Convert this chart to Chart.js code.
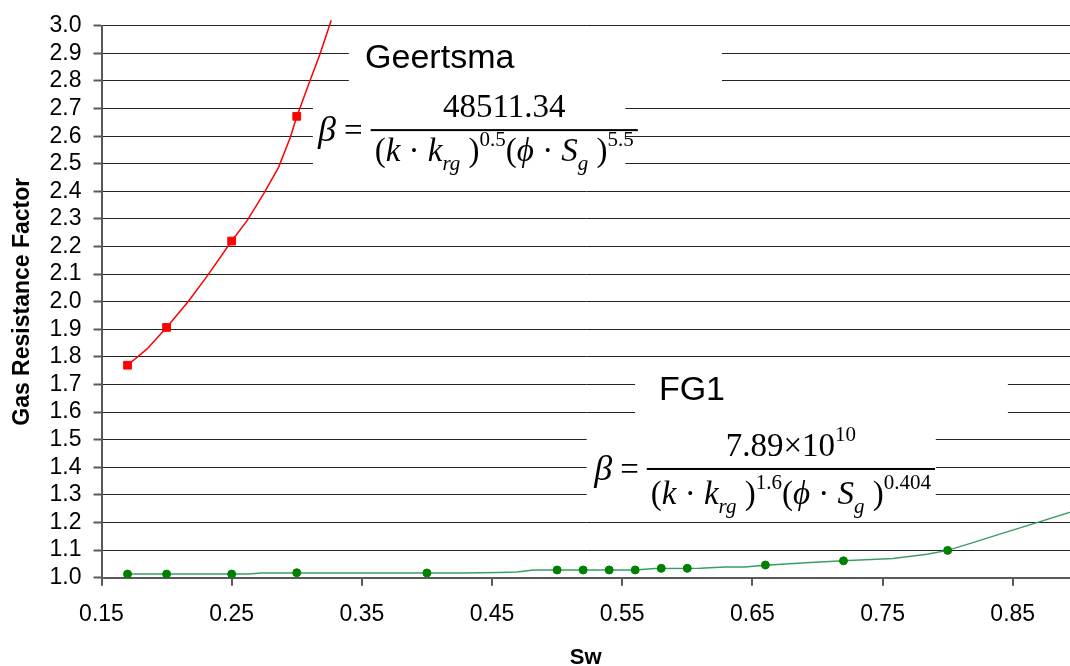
<!DOCTYPE html>
<html>
<head>
<meta charset="utf-8">
<script src="https://cdn.jsdelivr.net/npm/chart.js@4/dist/chart.umd.min.js"></script>
<style>
  html, body { margin: 0; padding: 0; background: #fff; }
  #wrap { width: 1070px; height: 666px; position: relative; }
</style>
</head>
<body>
<div id="wrap"><canvas id="betaChart"></canvas></div>
<script>
// measured points
const geertsmaSw = [0.17, 0.20, 0.25, 0.30];
const geertsmaBeta = [1.77, 1.907, 2.22, 2.672];
const fg1Sw = [0.17, 0.20, 0.25, 0.30, 0.40, 0.50, 0.52, 0.54, 0.56, 0.58, 0.60, 0.66, 0.72, 0.80];
const fg1Beta = [1.013, 1.013, 1.013, 1.018, 1.017, 1.028, 1.028, 1.028, 1.028, 1.034, 1.034, 1.046, 1.061, 1.099];

// correlation curves
const geertsmaCurveSw = [0.17, 0.185, 0.20, 0.2165, 0.231, 0.25, 0.262, 0.2745, 0.286, 0.295, 0.30, 0.309, 0.318, 0.3265];
const geertsmaCurveBeta = [1.77, 1.829, 1.907, 2.0, 2.092, 2.22, 2.295, 2.391, 2.487, 2.595, 2.67, 2.786, 2.90, 3.02];
const fg1CurveSw = [0.17, 0.263, 0.273, 0.427, 0.456, 0.469, 0.482, 0.56, 0.575, 0.61, 0.629, 0.644, 0.66, 0.691, 0.72, 0.758, 0.784, 0.80, 0.82, 0.84, 0.86, 0.90];
const fg1CurveBeta = [1.013, 1.013, 1.017, 1.017, 1.019, 1.021, 1.028, 1.028, 1.033, 1.034, 1.039, 1.039, 1.045, 1.054, 1.061, 1.07, 1.085, 1.099, 1.128, 1.158, 1.187, 1.246];

const xTicks = [0.15, 0.25, 0.35, 0.45, 0.55, 0.65, 0.75, 0.85];

const pts = (xs, ys) => xs.map((x, i) => ({ x: x, y: ys[i] }));

const SANS = '"Liberation Sans", Arial, sans-serif';
const SERIF = '"Liberation Serif", "Times New Roman", serif';
Chart.defaults.font.family = SANS;
Chart.defaults.color = '#000';

// text helpers for the formula labels
function runsWidth(ctx, runs) {
    let w = 0;
    runs.forEach(r => { ctx.font = r.f; w += ctx.measureText(r.t).width; });
    return w;
}
function drawRuns(ctx, runs, x, y) {
    runs.forEach(r => {
        ctx.font = r.f;
        ctx.fillText(r.t, x, y + (r.dy || 0));
        x += ctx.measureText(r.t).width;
    });
}

const big = '33px ' + SERIF;
const bigIt = 'italic 33px ' + SERIF;
const sm = '21px ' + SERIF;
const smIt = 'italic 21px ' + SERIF;

function denominator(p1, p2) {
    return [
        { t: '(', f: big }, { t: 'k', f: bigIt }, { t: ' · ', f: big }, { t: 'k', f: bigIt },
        { t: 'rg', f: smIt, dy: 9 }, { t: ' )', f: big }, { t: p1, f: sm, dy: -15 },
        { t: '(', f: big }, { t: '\u03D5', f: bigIt }, { t: ' · ', f: big }, { t: 'S', f: bigIt },
        { t: 'g', f: smIt, dy: 9 }, { t: ' )', f: big }, { t: p2, f: sm, dy: -15 }
    ];
}

const labels = [
    {
        name: 'Geertsma', nameAt: [0.3525, 2.847],
        nameBox: [0.340, 2.95, 0.6266, 2.745],
        eqBox: [0.3124, 2.74, 0.5524, 2.43],
        eqAt: [0.3164, 2.622], denDy: 31,
        num: [{ t: '48511.34', f: big }],
        den: denominator('0.5', '5.5')
    },
    {
        name: 'FG1', nameAt: [0.5782, 1.644],
        nameBox: [0.5599, 1.75, 0.8463, 1.555],
        eqBox: [0.5229, 1.545, 0.7909, 1.245],
        eqAt: [0.5285, 1.394], denDy: 35,
        num: [{ t: '7.89', f: big }, { t: '×', f: big }, { t: '10', f: big }, { t: '10', f: sm, dy: -15 }],
        den: denominator('1.6', '0.404')
    }
];

const formulaPlugin = {
    id: 'formulaLabels',
    beforeDatasetsDraw(chart) {
        const ctx = chart.ctx;
        const xs = chart.scales.x, ys = chart.scales.y;
        const px = v => xs.getPixelForValue(v);
        const py = v => ys.getPixelForValue(v);
        ctx.save();
        labels.forEach(l => {
            ctx.fillStyle = '#fff';
            [l.nameBox, l.eqBox].forEach(b => {
                ctx.fillRect(px(b[0]), py(b[1]), px(b[2]) - px(b[0]), py(b[3]) - py(b[1]));
            });
            ctx.fillStyle = '#000';
            ctx.textBaseline = 'alphabetic';
            ctx.textAlign = 'left';
            ctx.font = '34px ' + SANS;
            ctx.fillText(l.name, px(l.nameAt[0]), py(l.nameAt[1]));

            const x0 = px(l.eqAt[0]);
            const barY = py(l.eqAt[1]);
            ctx.font = 'italic 36px ' + SERIF;
            ctx.fillText('β', x0, barY + 11);
            const bw = ctx.measureText('β').width;
            ctx.font = big;
            ctx.fillText('=', x0 + bw + 8, barY + 11);
            const barX = x0 + bw + 8 + ctx.measureText('=').width + 8;
            const denW = runsWidth(ctx, l.den);
            const numW = runsWidth(ctx, l.num);
            const barW = Math.max(denW, numW) + 8;
            ctx.fillRect(barX, barY - 1, barW, 2);
            drawRuns(ctx, l.num, barX + (barW - numW) / 2, barY - 13);
            drawRuns(ctx, l.den, barX + (barW - denW) / 2, barY + l.denDy);
        });
        ctx.restore();
    }
};

new Chart(document.getElementById('betaChart'), {
    type: 'scatter',
    data: {
        datasets: [
            {
                data: pts(geertsmaSw, geertsmaBeta),
                pointStyle: 'rect', pointRadius: 5.5, borderWidth: 1,
                backgroundColor: '#ff0000', borderColor: '#ff0000'
            },
            {
                data: pts(fg1Sw, fg1Beta),
                pointStyle: 'circle', pointRadius: 4, borderWidth: 1,
                backgroundColor: '#008000', borderColor: '#008000'
            },
            {
                data: pts(geertsmaCurveSw, geertsmaCurveBeta),
                showLine: true, pointRadius: 0, borderWidth: 1.5,
                borderColor: '#ff0000', tension: 0,
                clip: { left: 0, top: 8, right: 0, bottom: 0 }
            },
            {
                data: pts(fg1CurveSw, fg1CurveBeta),
                showLine: true, pointRadius: 0, borderWidth: 1.5,
                borderColor: '#3a9e64', tension: 0
            }
        ]
    },
    options: {
        responsive: true,
        maintainAspectRatio: false,
        animation: false,
        layout: { autoPadding: false, padding: { top: 20.3, right: 0, bottom: 0, left: 0 } },
        plugins: {
            legend: { display: false },
            tooltip: { enabled: false }
        },
        scales: {
            x: {
                type: 'linear',
                min: 0.15,
                max: 0.894,
                afterBuildTicks: s => { s.ticks = xTicks.map(v => ({ value: v })); },
                afterFit: s => { s.height = 88.3; s.paddingLeft = 0; s.paddingRight = 0; },
                border: { color: '#595959', width: 2 },
                grid: { drawOnChartArea: false, drawTicks: true, tickLength: 8, color: '#595959', lineWidth: 2 },
                ticks: {
                    padding: 15,
                    font: { size: 23 },
                    callback: v => v.toFixed(2)
                },
                title: {
                    display: true, text: 'Sw',
                    font: { size: 22, weight: 'bold', lineHeight: 1 },
                    padding: { top: 0, bottom: -3 }
                }
            },
            y: {
                min: 1.0,
                max: 3.0,
                afterFit: s => { s.width = 101.5; },
                border: { color: '#595959', width: 2 },
                grid: { color: '#222', lineWidth: 1, drawTicks: true, tickLength: 8, tickColor: '#595959', tickWidth: 2 },
                ticks: {
                    stepSize: 0.1,
                    autoSkip: false,
                    padding: 12,
                    font: { size: 23 },
                    callback: v => v.toFixed(1)
                },
                title: {
                    display: true, text: 'Gas Resistance Factor',
                    font: { size: 23, weight: 'bold', lineHeight: 1 },
                    padding: { top: 11, bottom: 0 }
                }
            }
        }
    },
    plugins: [formulaPlugin]
});
</script>
</body>
</html>
